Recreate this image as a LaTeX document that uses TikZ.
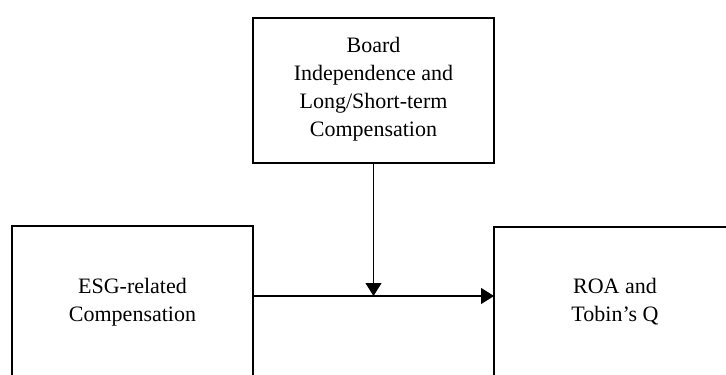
\documentclass[tikz,border=0pt]{standalone}
\usepackage{fontspec}
\setmainfont{Liberation Serif}
\usetikzlibrary{arrows.meta,positioning}

\tikzset{
	box/.style={draw, line width=1.4pt, inner sep=0pt, outer sep=0pt},
	txt/.style={align=center, font=\fontsize{11}{14}\selectfont},
	link/.style={line width=0.55pt, -{Triangle[length=6.5pt,width=8pt]}}
}

\begin{document}
\begin{tikzpicture}[x=0.5pt,y=-0.5pt]
	\clip (0,0) rectangle (726,374);

	% Moderator box
	\node[box, anchor=north west, minimum width=120.5pt, minimum height=72.5pt] (board) at (253,18) {};
	\node[txt] (boardtxt) at (373.5,89) {Board\\Independence and\\Long/Short-term\\Compensation};

	% Independent variable
	\node[box, anchor=north west, minimum width=120.5pt, minimum height=90pt] (esg) at (12,226) {};
	\node[txt] (esgtxt) at (132.5,302) {ESG-related\\Compensation};

	% Dependent variable
	\node[box, anchor=north west, minimum width=121pt, minimum height=90pt] (roa) at (494,227) {};
	\node[txt] (roatxt) at (615,302) {ROA and\\Tobin's Q};

	% Paths
	\coordinate (join) at (board.south |- 0,296);
	\draw[link] (esg.east |- join) -- (roa.west |- join);
	\draw[link] (board.south) -- (join);
\end{tikzpicture}
\end{document}
